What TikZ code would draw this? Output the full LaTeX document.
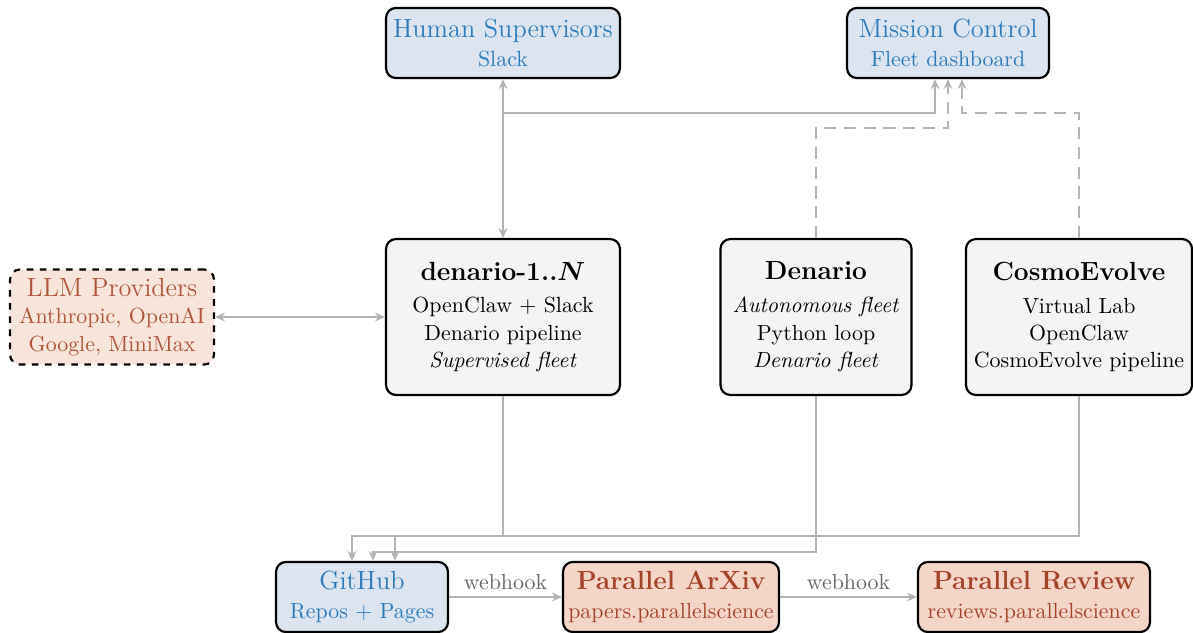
\documentclass[tikz,border=0pt]{standalone}
\usetikzlibrary{arrows.meta,calc}
\definecolor{bluefill}{HTML}{DCE4F0}
\definecolor{bluetext}{HTML}{2B7BBA}
\definecolor{grayfill}{HTML}{F4F4F4}
\definecolor{llmfill}{HTML}{F7E4DA}
\definecolor{llmtext}{HTML}{B0543A}
\definecolor{parfill}{HTML}{F3D6C7}
\definecolor{partext}{HTML}{A3432A}
\definecolor{conngray}{HTML}{B3B3B3}
\definecolor{lblgray}{HTML}{666666}
\begin{document}
\begin{tikzpicture}[x=0.4566pt,y=-0.4566pt,
  nbox/.style={draw=black,line width=1pt,rounded corners=4.5pt,align=center,inner sep=2pt},
  bluebox/.style={nbox,fill=bluefill,text=bluetext},
  graybox/.style={nbox,fill=grayfill,text=black},
  llmbox/.style={nbox,dashed,fill=llmfill,text=llmtext},
  parbox/.style={nbox,fill=parfill,text=partext},
  conn/.style={draw=conngray,line width=1pt},
  arr/.style={conn,-{Stealth[length=4.5pt,width=4pt]}},
  darr/.style={conn,{Stealth[length=4.5pt,width=4pt]}-{Stealth[length=4.5pt,width=4pt]}},
  dsh/.style={dash pattern=on 5.5pt off 3.5pt},
  lbl/.style={font=\normalsize,text=lblgray,inner sep=3pt}]
\useasboundingbox (0,0) rectangle (1193,632);

\node[bluebox,minimum width=106.8pt,minimum height=32pt] (hs) at (503,43)
  {{\large Human Supervisors}\\[1pt] Slack};
\node[bluebox,minimum width=92.2pt,minimum height=32pt] (mc) at (948,43)
  {{\large Mission Control}\\[1pt] Fleet dashboard};
\node[llmbox,minimum width=93.1pt,minimum height=43.4pt] (llm) at (112,317)
  {{\large LLM Providers}\\[0.5pt] Anthropic, OpenAI\\[0.5pt] Google, MiniMax};
\node[graybox,minimum width=106.8pt,minimum height=71.2pt] (d1) at (503,317)
  {{\large\bfseries denario-1..{\boldmath$N$}}\\[3pt] OpenClaw + Slack\\[0.5pt] Denario pipeline\\[0.5pt] \textit{Supervised fleet}};
\node[graybox,minimum width=87.2pt,minimum height=71.2pt] (den) at (816,317)
  {{\large\bfseries Denario}\\[3pt] \textit{Autonomous fleet}\\[0.5pt] Python loop\\[0.5pt] \textit{Denario fleet}};
\node[graybox,minimum width=103.2pt,minimum height=71.2pt] (ce) at (1079,317)
  {{\large\bfseries CosmoEvolve}\\[3pt] Virtual Lab\\[0.5pt] OpenClaw\\[0.5pt] CosmoEvolve pipeline};
\node[bluebox,minimum width=78.5pt,minimum height=32pt] (gh) at (362,597)
  {{\large GitHub}\\[1pt] Repos + Pages};
\node[parbox,minimum width=98.6pt,minimum height=32pt] (pa) at (671,597)
  {{\large\bfseries Parallel ArXiv}\\[1.5pt] papers.parallelscience};
\node[parbox,minimum width=105.9pt,minimum height=32pt] (pr) at (1034,597)
  {{\large\bfseries Parallel Review}\\[1.5pt] reviews.parallelscience};

\coordinate (lvA) at (0,113);
\coordinate (lvB) at (0,128);
\coordinate (lvC) at (0,536);
\coordinate (lvD) at (0,552);

\draw[darr] (hs) -- (d1);
\draw[arr] (hs.south |- lvA) -| ($(mc.south)+(-13,0)$);
\draw[arr,dsh] (den.north) -- (den.north |- lvB) -| (mc.south);
\draw[arr,dsh] (ce.north) -- (ce.north |- lvA) -| ($(mc.south)+(14,0)$);
\draw[darr] (llm) -- (d1);
\draw[arr] (d1.south) -- (d1.south |- lvC) -| ($(gh.north)+(-10,0)$);
\draw[arr] (ce.south) -- (ce.south |- lvC) -| ($(gh.north)+(33,0)$);
\draw[arr] (den.south) -- (den.south |- lvD) -| ($(gh.north)+(11,0)$);
\draw[arr] (gh) -- node[above,lbl] {webhook} (pa);
\draw[arr] (pa) -- node[above,lbl] {webhook} (pr);
\end{tikzpicture}
\end{document}
